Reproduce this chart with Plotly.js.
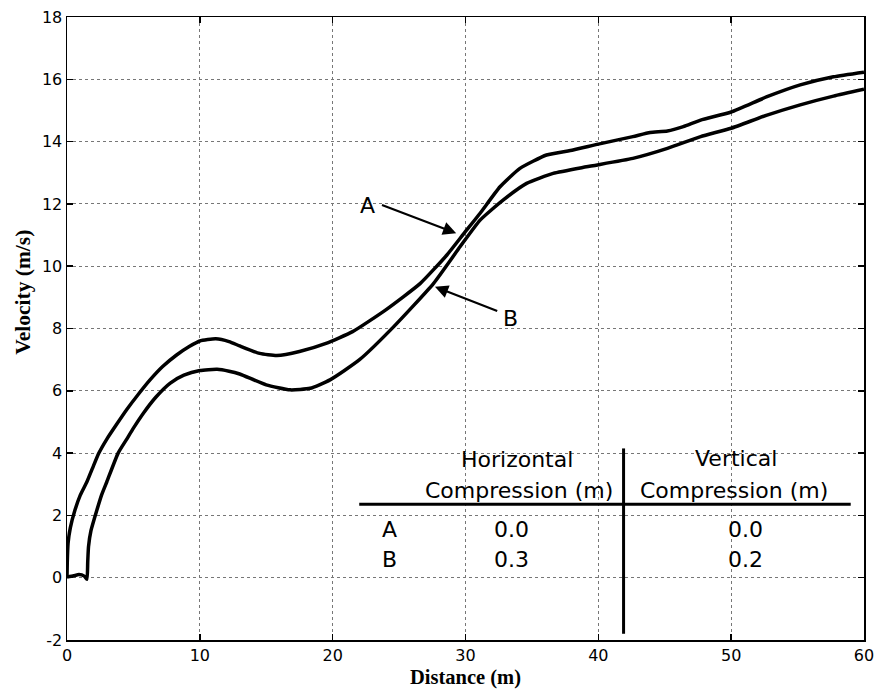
<!DOCTYPE html>
<html>
<head>
<meta charset="utf-8">
<script src="https://cdn.plot.ly/plotly-3.0.1.min.js"></script>
<style>html,body{margin:0;padding:0;background:#fff;}#chart{width:875px;height:693px;}</style>
</head>
<body>
<div id="chart"></div>
<script>
// Curve A (no compression)
const curveAx = [0, 0.02, 0.08, 0.25, 0.6, 1.0, 1.5, 2.0, 2.4, 3.0, 3.7, 4.5, 5.3, 6.25, 7.2, 8.25, 9.2, 10, 11.2, 12.2, 13, 14.5, 15.8, 17.5, 19.5, 21.5, 24, 26.6, 28.6, 29.9, 31.1, 32.6, 34.1, 36.1, 38.1, 40, 42.6, 43.9, 45.2, 46.4, 47.7, 50, 52.7, 55.2, 57.7, 60];
const curveAy = [0, 0.5, 1.1, 1.6, 2.17, 2.65, 3.08, 3.6, 4.0, 4.45, 4.9, 5.4, 5.85, 6.35, 6.78, 7.15, 7.42, 7.6, 7.67, 7.58, 7.44, 7.2, 7.13, 7.26, 7.52, 7.9, 8.6, 9.45, 10.36, 11.06, 11.7, 12.55, 13.14, 13.57, 13.73, 13.92, 14.16, 14.29, 14.34, 14.48, 14.69, 14.95, 15.44, 15.82, 16.08, 16.23];
// Curve B (compressed)
const curveBx = [0, 0.5, 0.9, 1.3, 1.5, 1.56, 1.62, 1.8, 2.25, 2.6, 3.0, 3.85, 4.5, 5.0, 5.75, 6.7, 7.75, 8.8, 10, 11.3, 12.2, 13, 15, 16.8, 18.3, 19.8, 22, 24.6, 27.6, 29.6, 31.1, 32.85, 34.6, 36.6, 39.1, 42.6, 45.2, 47.7, 50, 52.7, 55.2, 57.7, 60];
const curveBy = [0.02, 0.06, 0.1, 0.05, -0.05, 0.5, 1.0, 1.5, 2.17, 2.65, 3.08, 4.0, 4.45, 4.8, 5.28, 5.8, 6.24, 6.5, 6.65, 6.69, 6.63, 6.54, 6.19, 6.03, 6.08, 6.35, 6.99, 8.06, 9.45, 10.63, 11.48, 12.13, 12.66, 12.98, 13.19, 13.46, 13.78, 14.16, 14.43, 14.85, 15.18, 15.46, 15.68];

// Ticks
const xTicks = [0, 10, 20, 30, 40, 50, 60];
const yTicks = [-2, 0, 2, 4, 6, 8, 10, 12, 14, 16, 18];

// Table contents
const headerLine1 = ["Horizontal", "Vertical"];
const headerLine2 = ["Compression (m)", "Compression (m)"];
const rowLabels = ["A", "B"];
const horizComp = ["0.0", "0.3"];
const vertComp = ["0.0", "0.2"];

const lineStyle = {color: '#000', width: 3.5, shape: 'spline', smoothing: 0.5};

const traces = [
  {x: curveAx, y: curveAy, mode: 'lines', line: lineStyle, hoverinfo: 'skip', showlegend: false},
  {x: curveBx, y: curveBy, mode: 'lines', line: lineStyle, hoverinfo: 'skip', showlegend: false}
];

const tFont = {family: 'DejaVu Sans, sans-serif', size: 22, color: '#000'};
const rowY = [1.55, 0.6];
const annotations = [
  // y-axis title (placed as in the original, slightly above centre)
  {xref: 'paper', x: -0.0555, xanchor: 'center', yref: 'y', y: 9.17, yanchor: 'middle', text: '<b>Velocity (m/s)</b>', textangle: -90, showarrow: false,
   font: {family: 'Liberation Serif, Times New Roman, serif', size: 21.5, color: '#000'}},
  // arrows
  {x: 29.3, y: 11.06, ax: 23.6, ay: 11.98, xref: 'x', yref: 'y', axref: 'x', ayref: 'y', text: '', showarrow: true, arrowhead: 2, arrowsize: 1.2, arrowwidth: 2.2, arrowcolor: '#000'},
  {x: 27.7, y: 9.34, ax: 32.5, ay: 8.54, xref: 'x', yref: 'y', axref: 'x', ayref: 'y', text: '', showarrow: true, arrowhead: 2, arrowsize: 1.2, arrowwidth: 2.2, arrowcolor: '#000'},
  {x: 22.6, y: 11.96, xref: 'x', yref: 'y', text: 'A', showarrow: false, font: tFont},
  {x: 33.4, y: 8.33, xref: 'x', yref: 'y', text: 'B', showarrow: false, font: tFont},
  // table headers
  {x: 33.9, y: 3.8, xref: 'x', yref: 'y', text: headerLine1[0], showarrow: false, font: tFont},
  {x: 34.0, y: 2.79, xref: 'x', yref: 'y', text: headerLine2[0], showarrow: false, font: tFont},
  {x: 50.4, y: 3.82, xref: 'x', yref: 'y', text: headerLine1[1], showarrow: false, font: tFont},
  {x: 50.2, y: 2.79, xref: 'x', yref: 'y', text: headerLine2[1], showarrow: false, font: tFont}
];
rowLabels.forEach((r, i) => {
  annotations.push({x: 24.3, y: rowY[i], xref: 'x', yref: 'y', text: r, showarrow: false, font: tFont});
  annotations.push({x: 33.5, y: rowY[i], xref: 'x', yref: 'y', text: horizComp[i], showarrow: false, font: tFont});
  annotations.push({x: 51.1, y: rowY[i], xref: 'x', yref: 'y', text: vertComp[i], showarrow: false, font: tFont});
});

const shapes = [
  {type: 'line', xref: 'x', yref: 'y', x0: 22.0, x1: 59.0, y0: 2.36, y1: 2.36, line: {color: '#000', width: 3}},
  {type: 'line', xref: 'x', yref: 'y', x0: 41.9, x1: 41.9, y0: 4.15, y1: -1.8, line: {color: '#000', width: 3}}
];

const axisCommon = {
  showline: true, linecolor: '#000', linewidth: 1.5, mirror: 'ticks',
  ticks: 'inside', ticklen: 6, tickwidth: 1.5, tickcolor: '#000',
  showgrid: true, gridcolor: '#777', griddash: 'dot', gridwidth: 1,
  zeroline: false,
  tickfont: {family: 'DejaVu Sans, sans-serif', size: 16, color: '#000'}
};

const layout = {
  width: 875, height: 693,
  margin: {l: 67, r: 11, t: 17, b: 53},
  paper_bgcolor: '#fff', plot_bgcolor: '#fff',
  xaxis: Object.assign({}, axisCommon, {
    range: [0, 60], tickvals: xTicks, ticktext: xTicks.map(String),
    title: {text: '<b>Distance (m)</b>', font: {family: 'Liberation Serif, Times New Roman, serif', size: 20.5, color: '#000'}, standoff: 6}
  }),
  yaxis: Object.assign({}, axisCommon, {
    range: [-2, 18], tickvals: yTicks, ticktext: yTicks.map(String)
  }),
  annotations: annotations,
  shapes: shapes,
  showlegend: false
};

Plotly.newPlot('chart', traces, layout, {staticPlot: true, displayModeBar: false});
</script>
</body>
</html>
